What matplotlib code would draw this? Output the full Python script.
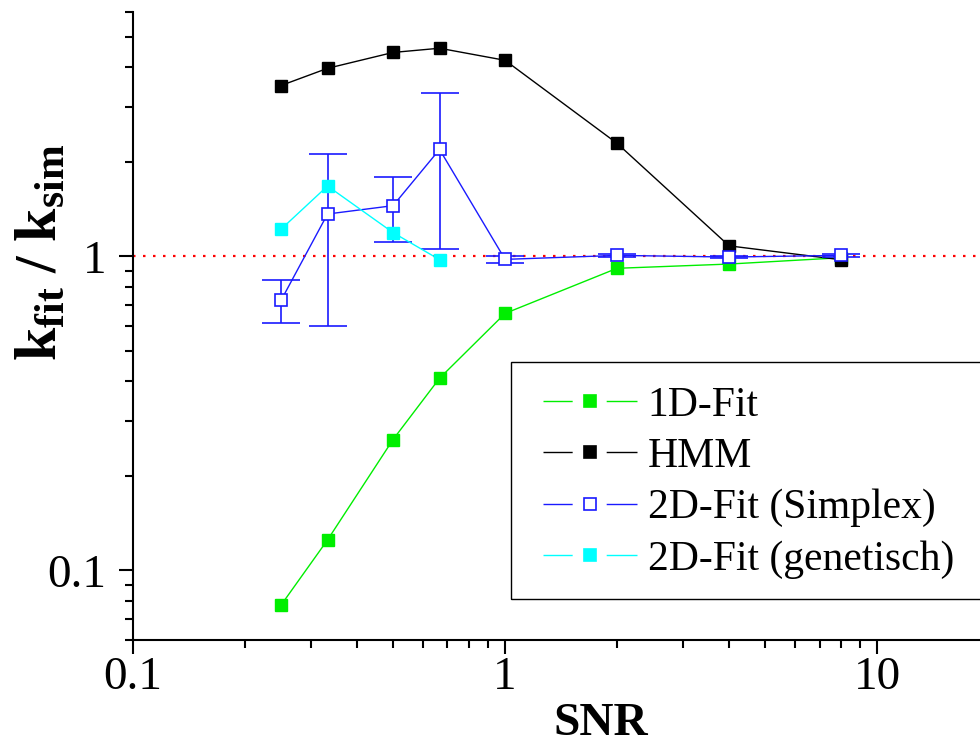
import matplotlib
matplotlib.use('Agg')
import matplotlib.pyplot as plt
from matplotlib.lines import Line2D
from matplotlib.patches import Rectangle

plt.rcParams['font.family'] = ['Liberation Serif', 'DejaVu Serif']
plt.rcParams['mathtext.fontset'] = 'custom'
plt.rcParams['mathtext.rm'] = 'Liberation Serif'
plt.rcParams['mathtext.bf'] = 'Liberation Serif:bold'
plt.rcParams['mathtext.it'] = 'Liberation Serif:italic'
plt.rcParams['lines.scale_dashes'] = False

# Daten
snr = [0.25, 1/3, 0.5, 2/3, 1, 2, 4, 8]
fit_1d = [0.0775, 0.125, 0.261, 0.409, 0.658, 0.916, 0.945, 0.99]
hmm = [3.5, 3.97, 4.46, 4.6, 4.21, 2.29, 1.08, 0.975]
simplex = [0.724, 1.364, 1.45, 2.19, 0.978, 1.007, 0.995, 1.007]
simplex_lo = [0.613, 0.598, 1.113, 1.055, 0.95, 0.995, 0.99, 0.997]
simplex_hi = [0.839, 2.12, 1.785, 3.32, 1.005, 1.015, 1.0, 1.015]
snr_gen = [0.25, 1/3, 0.5, 2/3]
genetisch = [1.22, 1.675, 1.19, 0.976]

labels = ['1D-Fit', 'HMM', '2D-Fit (Simplex)', '2D-Fit (genetisch)']
farben = ['#00ee00', 'black', '#1a1aff', 'cyan']
fuellung = ['#00ee00', 'black', 'white', 'cyan']

fig = plt.figure(figsize=(9.8, 7.44), dpi=100)
ax = fig.add_axes([133/980, 104/744, 847/980, 628/744])

ax.axhline(1, color='red', lw=1.6, ls=(0, (1.8, 5.4)), zorder=1)

ax.plot(snr, fit_1d, color=farben[0], lw=1, marker='s', ms=9,
        mfc=fuellung[0], mec=farben[0], zorder=2)
ax.plot(snr, hmm, color=farben[1], lw=1, marker='s', ms=9,
        mfc=fuellung[1], mec=farben[1], zorder=3)
err = [[s - lo for s, lo in zip(simplex, simplex_lo)],
       [hi - s for s, hi in zip(simplex, simplex_hi)]]
ax.errorbar(snr, simplex, yerr=err, color=farben[2], lw=1, marker='s', ms=9,
            mfc=fuellung[2], mec=farben[2], mew=1.2, ecolor=farben[2],
            elinewidth=1.2, capsize=13.5, capthick=1.2, zorder=4)
ax.plot(snr_gen, genetisch, color=farben[3], lw=1, marker='s', ms=9,
        mfc=fuellung[3], mec=farben[3], zorder=5)

ax.set_xscale('log')
ax.set_yscale('log')
ax.set_xlim(0.1, 18.9)
ax.set_ylim(0.06, 6)

ax.spines['top'].set_visible(False)
ax.spines['right'].set_visible(False)
ax.spines['left'].set_linewidth(1.5)
ax.spines['bottom'].set_linewidth(1.5)
ax.tick_params(which='major', direction='out', length=10, width=1.5,
               labelsize=34)
ax.tick_params(which='minor', direction='out', length=5.5, width=1.5)
ax.tick_params(axis='x', which='major', pad=2)
ax.tick_params(axis='y', which='major', pad=9)
ax.set_xticks([0.1, 1, 10])
ax.set_xticklabels(['0.1', '1', '10'])
ax.set_yticks([0.1, 1])
ax.set_yticklabels(['0.1', '1'])

fig.text(601/980, 9/744, 'SNR', fontsize=34, fontweight='bold',
         ha='center', va='baseline')
fig.text(42/980, 1 - 252/744, r'$\mathbf{k_{fit}\ /\ k_{sim}}$',
         fontsize=43, rotation=90, ha='center', va='center')

# Legende: Linie - Symbol - Linie
handles = []
for f, mf in zip(farben, fuellung):
    linie = Line2D([], [], color=f, lw=1, dashes=(21, 24.5, 23, 100))
    punkt = Line2D([], [], ls='none', marker='s', ms=8.5, mfc=mf, mec=f, mew=1.2)
    handles.append((linie, punkt))

leg = fig.legend(handles, labels, loc='upper left',
                 bbox_to_anchor=(543/980, 1 - 386/744), fontsize=30,
                 frameon=False, handlelength=2.25, handletextpad=0.26,
                 labelspacing=0.31, borderpad=0, borderaxespad=0)
fig.patches.append(Rectangle((511/980, 1 - 599/744), 479/980, 237/744,
                             transform=fig.transFigure, fill=False,
                             edgecolor='black', lw=1))

fig.savefig('out.png', dpi=100)
